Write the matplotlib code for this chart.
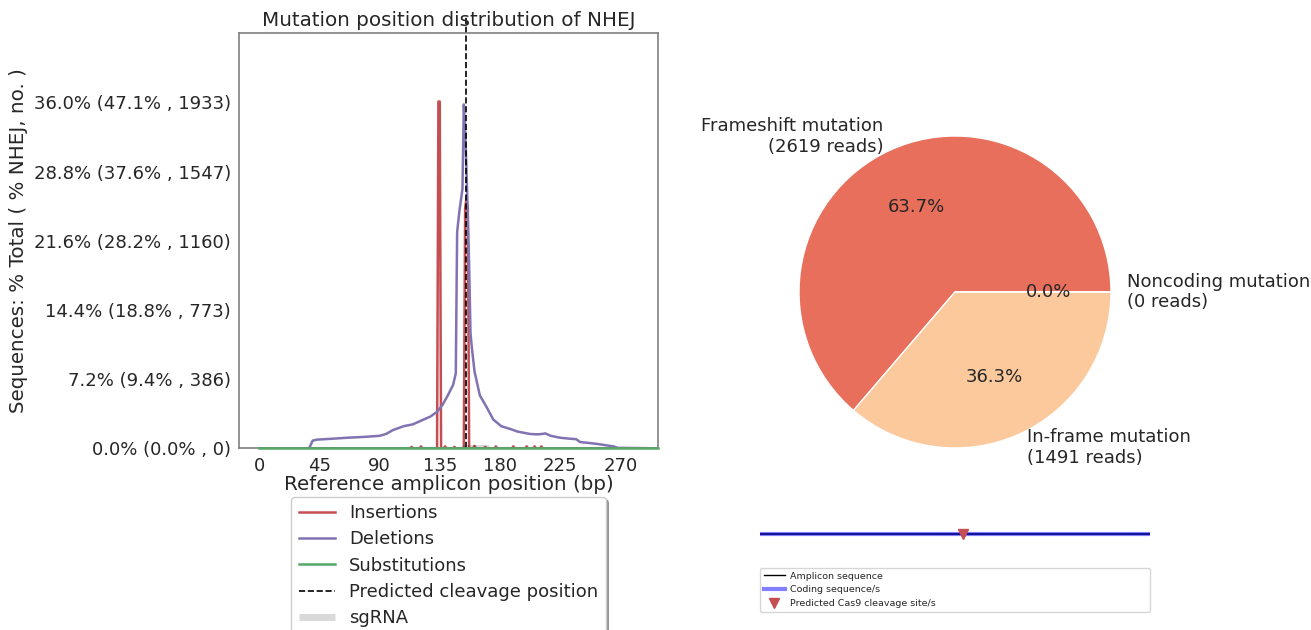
#!/usr/bin/env python3
"""NHEJ mutation position distribution + frameshift pie (CRISPResso style)."""

import matplotlib
matplotlib.use('Agg')
import matplotlib.pyplot as plt
from matplotlib.lines import Line2D

TXT = '#262626'
RED = '#C44E52'
PURPLE = '#8172B2'
GREEN = '#55A868'

# amplicon / guide
amplicon_len = 299
cut_point = 155
sgrna = [152, 172]

# deletions (% of total reads)
del_pos = [0, 37, 38, 40, 43, 55, 66, 80, 90, 95, 100, 104, 108, 115, 123, 128,
           133, 137, 141, 145, 147, 148, 149, 150, 152, 153, 154, 155, 156, 157,
           158, 159, 161, 165, 170, 175, 181, 188, 193, 202, 208, 212, 214, 218,
           225, 232, 237, 240, 247, 253, 260, 265, 268, 298]
del_pct = [0, 0, 0.2, 0.8, 0.9, 1.0, 1.1, 1.2, 1.3, 1.5, 1.9, 2.1, 2.3, 2.5, 3.0, 3.3,
           3.8, 4.5, 5.5, 6.6, 7.8, 22.5, 23.8, 25.0, 27.0, 35.8, 33.0, 29.0, 24.0, 19.0,
           12.0, 10.5, 8.0, 5.5, 4.3, 3.0, 2.3, 2.0, 1.75, 1.5, 1.45, 1.5, 1.55, 1.3,
           1.1, 1.0, 0.95, 0.65, 0.55, 0.45, 0.3, 0.2, 0.05, 0]

# insertions
ins_pos = [0, 113, 114, 115, 120, 121, 122, 133, 134, 135, 136, 138, 139, 140, 145,
           146, 147, 153, 154, 155, 156, 157, 160, 161, 162, 168, 169, 170, 176,
           177, 178, 189, 190, 191, 199, 200, 201, 205, 206, 207, 210, 211, 212, 298]
ins_pct = [0, 0, 0.15, 0, 0, 0.2, 0, 0, 36.1, 36.1, 0, 0, 0.2, 0, 0,
           0.15, 0, 0, 25.0, 26.0, 25.0, 0, 0, 0.25, 0, 0, 0.15, 0, 0,
           0.2, 0, 0, 0.2, 0, 0, 0.2, 0, 0, 0.2, 0, 0, 0.2, 0, 0]

# substitutions (none)
sub_pos = [0, 298]
sub_pct = [0, 0]

y_max = 36.0
ytick_labels = ['0.0% (0.0% , 0)', '7.2% (9.4% , 386)', '14.4% (18.8% , 773)',
                '21.6% (28.2% , 1160)', '28.8% (37.6% , 1547)', '36.0% (47.1% , 1933)']

# pie
pie_labels = ['Frameshift mutation\n(2619 reads)', 'In-frame mutation\n(1491 reads)',
              'Noncoding mutation\n(0 reads)']
pie_counts = [2619, 1491, 0]
pie_colors = ['#E76F5B', '#FCC99C', '#F3A581']

plt.rcParams['font.family'] = 'DejaVu Sans'
plt.rcParams['text.color'] = TXT
plt.rcParams['axes.labelcolor'] = TXT
plt.rcParams['xtick.color'] = TXT
plt.rcParams['ytick.color'] = TXT

fig = plt.figure(figsize=(13.11, 6.30), dpi=100)
W, H = 1311, 630


def px_box(x0, y0, x1, y1):
    return [x0 / W, 1 - y1 / H, (x1 - x0) / W, (y1 - y0) / H]


# ---- left: mutation position distribution
ax = fig.add_axes(px_box(239.3, 33.3, 657.7, 448.3))
ax.plot(ins_pos, ins_pct, color=RED, lw=1.8, label='Insertions')
ax.plot(del_pos, del_pct, color=PURPLE, lw=1.8, label='Deletions')
ax.plot(sub_pos, sub_pct, color=GREEN, lw=1.8, label='Substitutions',
        zorder=3, clip_on=False)
ax.plot([cut_point, cut_point], [0, y_max * 1.25], '--', color='k', lw=1.2,
        clip_on=False, label='Predicted cleavage position')
ax.plot(sgrna, [0, 0], lw=5, color=(0, 0, 0, 0.15), solid_capstyle='butt', label='sgRNA')

ax.set_xlim(-14.9, amplicon_len - 1)
ax.set_ylim(0, y_max * 1.2)
ax.set_xticks(range(0, 271, 45))
ax.set_yticks([y_max * i / 5 for i in range(6)])
ax.set_yticklabels(ytick_labels)
ax.tick_params(length=0, pad=6, labelsize=13)
for s in ax.spines.values():
    s.set_color('#808080')
    s.set_linewidth(1.2)
ax.set_title('Mutation position distribution of NHEJ', fontsize=14.3, pad=5)
ax.set_xlabel('Reference amplicon position (bp)', fontsize=14.3, labelpad=0)
ax.set_ylabel('Sequences: % Total ( % NHEJ, no. )', fontsize=14.3, labelpad=4)

leg = ax.legend(loc='upper center', bbox_to_anchor=(0.5, -0.117), borderaxespad=0,
                fontsize=13, fancybox=True, shadow=True, labelspacing=0.46,
                handlelength=2.0)
for t in leg.get_texts():
    t.set_color(TXT)

# ---- right top: pie
pax = fig.add_axes(px_box(760, 97, 1150, 487))
pax.pie(pie_counts, labels=pie_labels, colors=pie_colors, autopct='%1.1f%%',
        startangle=0, wedgeprops=dict(edgecolor='white', linewidth=1),
        textprops=dict(fontsize=13, color=TXT))
pax.set_xlim(-1.25, 1.25)
pax.set_ylim(-1.25, 1.25)
pax.set_aspect('equal')

# ---- right bottom: amplicon schematic
bax = fig.add_axes(px_box(760, 524, 1150, 544))
bax.plot([0, amplicon_len - 1], [0, 0], color='k', lw=1.2)
bax.plot([0, amplicon_len - 1], [0, 0], color=(0, 0, 1, 0.5), lw=3)
bax.plot([cut_point], [0], 'v', color=RED, ms=7)
bax.set_xlim(0, amplicon_len - 1)
bax.set_ylim(-1, 1)
bax.axis('off')

handles = [Line2D([], [], color='k', lw=1),
           Line2D([], [], color=(0, 0, 1, 0.5), lw=3),
           Line2D([], [], color=RED, marker='v', ls='', ms=7)]
bleg = bax.legend(handles, ['Amplicon sequence', 'Coding sequence/s',
                            'Predicted Cas9 cleavage site/s'],
                  loc='upper left', bbox_to_anchor=px_box(760, 568, 1150, 568),
                  bbox_transform=fig.transFigure, mode='expand', borderaxespad=0,
                  fontsize=6.8, labelspacing=0.5, handlelength=2.2, handletextpad=0.6)
for t in bleg.get_texts():
    t.set_color(TXT)

fig.savefig('out.png', dpi=100)
print('saved out.png')
